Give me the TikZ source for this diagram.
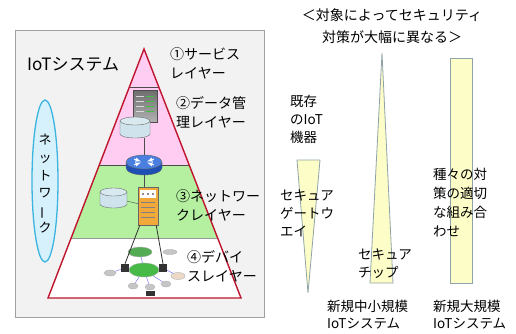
\documentclass[tikz,border=0pt]{standalone}
\usepackage{fontspec}
\setmainfont{Noto Sans CJK JP}
\usetikzlibrary{shapes.geometric}

\definecolor{boxgray}{HTML}{F2F2F2}
\definecolor{boxline}{HTML}{A0A0A0}
\definecolor{layerpink}{HTML}{FFCCF2}
\definecolor{layergreen}{HTML}{B4F0A0}
\definecolor{pyrred}{HTML}{C0142D}
\definecolor{netfill}{HTML}{D6F1FB}
\definecolor{netline}{HTML}{3CB4E0}
\definecolor{dbblue}{HTML}{CFE3EC}
\definecolor{rtrblue}{HTML}{1E4FB4}
\definecolor{rtrtop}{HTML}{4A7FE0}
\definecolor{srvorange}{HTML}{F3A93A}
\definecolor{barfill}{HTML}{FDFDC8}
\definecolor{barline}{HTML}{8FA3A8}

% drum: centre x, centre y of the top ellipse, x radius, y radius, height, body, top
\newcommand{\drum}[7]{%
  \draw[fill=#6, draw=black!60] (#1-#3,#2) -- ++(0,#5)
    arc[start angle=180, end angle=360, x radius=#3pt, y radius=#4pt] -- ++(0,-#5) -- cycle;
  \draw[fill=#7, draw=black!60] (#1,#2) ellipse[x radius=#3pt, y radius=#4pt];}

\begin{document}
\begin{tikzpicture}[x=1pt, y=-1pt,
    lbl/.style={anchor=north west, inner sep=0pt, align=left},
    spot/.style={inner sep=0pt},
    blob/.style={ellipse, inner sep=0pt, fill=gray!45, draw=gray!60},
    bar/.style={fill=barfill, draw=barline, line width=0.8pt}]
  \useasboundingbox (0,0) rectangle (516,333);

  % frame of the IoT system
  \draw[fill=boxgray, draw=boxline, line width=0.9pt] (15,30) rectangle (264,317);

  % pyramid and its layers
  \coordinate (apex) at (144,49);
  \coordinate (bl) at (48,298);
  \coordinate (br) at (241,298);
  \begin{scope}
    \clip (apex) -- (bl) -- (br) -- cycle;
    \fill[white] (0,40) rectangle (270,300);
    \fill[layerpink] (0,40) rectangle (270,165);
    \fill[layergreen] (0,165) rectangle (270,238);
    \draw[black!70, line width=0.6pt] (0,87) -- (270,87);
    \draw[black!70, line width=0.6pt] (0,165) -- (270,165);
    \draw[black!40, line width=0.6pt] (0,238) -- (270,238);
  \end{scope}
  \draw[pyrred, line width=1.4pt, line join=miter] (apex) -- (bl) -- (br) -- cycle;

  % network
  \node[ellipse, draw=netline, fill=netfill, line width=1.3pt, minimum width=26pt,
    minimum height=162pt, inner sep=0pt] (net) at (45,181) {};
  \node[inner sep=0pt, align=center, font=\fontsize{13}{17.6}\selectfont] (nettxt) at (45,184)
    {ネ\\ッ\\ト\\ワ\\\rotatebox[origin=c]{90}{ー}\\ク};

  \node[anchor=west, inner sep=0pt, font=\fontsize{17}{20}\selectfont] (iot) at (27,64) {IoTシステム};

  % data management layer
  \node[draw=black!70, minimum width=24pt, minimum height=32pt, inner sep=0pt,
    top color=gray!85!black, bottom color=gray!60] (srv1) at (145,106) {};
  \foreach \yy in {96,101,106,111}
    \draw[green!50!gray, line width=0.7pt] (146,\yy) -- (154,\yy);
  \foreach \yy in {96,101,106,111}
    \draw[gray!30, line width=0.7pt] (136,\yy) -- (144,\yy);
  \node[spot, minimum width=30pt, minimum height=21pt] (db1) at (135,127.5) {};
  \drum{135}{121}{15}{4}{13}{dbblue}{dbblue!80!white}

  % router
  \node[spot, minimum width=36pt, minimum height=20pt] (rtr) at (144,165) {};
  \drum{144}{162}{18}{7}{6}{rtrblue}{rtrtop}
  \draw[white, line width=0.9pt, -latex] (134,159) -- (141,161.5);
  \draw[white, line width=0.9pt, -latex] (154,159) -- (147,161.5);
  \draw[white, line width=0.9pt, -latex] (134,165) -- (141,162.5);
  \draw[white, line width=0.9pt, -latex] (154,165) -- (147,162.5);

  % network layer
  \node[draw=black!60, fill=srvorange, minimum width=20pt, minimum height=38pt,
    inner sep=0pt] (srv2) at (148,206) {};
  \fill[white] (140,190) rectangle (156,198);
  \foreach \xx in {143,148,153}
    \fill[black!60] (\xx,194) circle[radius=1.2pt];
  \foreach \yy in {202,207,212,217}
    \draw[black!50, line width=0.5pt] (141,\yy) -- (155,\yy);
  \node[spot, minimum width=27pt, minimum height=20pt] (db2) at (113.5,198) {};
  \drum{113.5}{192}{13.5}{4}{12}{dbblue}{dbblue!80!white}

  % devices
  \node[blob, fill=green!35!gray, minimum width=24pt, minimum height=10pt] (dv1) at (140,252) {};
  \node[blob, fill=green!45!gray, minimum width=30pt, minimum height=14pt] (hub) at (144,270) {};
  \node[fill=black!80, minimum width=8pt, minimum height=8pt, inner sep=0pt] (lbox) at (125,268) {};
  \node[fill=black!80, minimum width=8pt, minimum height=8pt, inner sep=0pt] (rbox) at (163,268) {};
  \node[blob, minimum width=12pt, minimum height=6pt] (dv2) at (110,273) {};
  \node[blob, fill=brown!30, minimum width=14pt, minimum height=7pt] (dv3) at (178,276) {};
  \node[blob, minimum width=10pt, minimum height=6pt] (dv4) at (133,286) {};
  \node[blob, minimum width=10pt, minimum height=6pt] (dv5) at (150,287) {};
  \node[blob, minimum width=10pt, minimum height=6pt] (dv6) at (166,284) {};
  \node[fill=black!80, minimum width=9pt, minimum height=5pt, inner sep=0pt] (dv7) at (150,293) {};
  \node[blob, minimum width=14pt, minimum height=5pt] (dv8) at (170,252) {};

  \draw[black!70] (db1.south -| rtr.north) to (rtr.north);
  \draw[black!70] (rtr.south) to (rtr.south |- srv2.north);
  \draw[black!70] (db2) to (srv2);
  \draw[black!80, line width=0.8pt] (srv2.south west) ++(2,0) to (lbox.north);
  \draw[black!80, line width=0.8pt] (srv2.south east) ++(-2,0) to (rbox.north);
  \draw[blue!60] (dv2) to (lbox);
  \draw[blue!60] (lbox) to (hub);
  \draw[blue!60] (hub) to (rbox);
  \draw[blue!60] (rbox) to (dv3);
  \draw[blue!60] (hub) to (dv4);
  \draw[blue!60] (hub) to (dv5);
  \draw[blue!60] (hub) to (dv6);
  \draw[blue!60] (dv1) to (hub);

  % layer names
  \begin{scope}[font=\fontsize{14}{19}\selectfont]
    \node[lbl] (l1) at (170,47) {①サービス\\レイヤー};
    \node[lbl] (l2) at (176,96) {②データ管\\理レイヤー};
    \node[lbl] (l3) at (176,189) {③ネットワー\\クレイヤー};
    \node[lbl] (l4) at (187,250) {④デバイ\\スレイヤー};
  \end{scope}

  % security measures by target
  \node[align=center, inner sep=0pt, font=\fontsize{14}{22}\selectfont] (title) at (392,26)
    {＜対象によってセキュリティ\\対策が大幅に異なる＞};

  \coordinate (t1a) at (297,160);
  \coordinate (t1b) at (320,160);
  \coordinate (t1c) at (308,293);
  \draw[bar] (t1a) -- (t1b) -- (t1c) -- cycle;
  \coordinate (t2a) at (382,53);
  \coordinate (t2b) at (393,283);
  \coordinate (t2c) at (370,283);
  \draw[bar] (t2a) -- (t2b) -- (t2c) -- cycle;
  \draw[bar] (450,58) rectangle (472,283);

  \begin{scope}[font=\fontsize{13.5}{18}\selectfont]
    \node[lbl] (old) at (290,95) {既存\\のIoT\\機器};
    \node[lbl] (gw) at (280,190) {セキュア\\ゲートウ\\エイ};
    \node[lbl] (chip) at (358,249) {セキュア\\チップ};
  \end{scope}
  \node[lbl, font=\fontsize{13.5}{19}\selectfont] (mix) at (433,168) {種々の対\\策の適切\\な組み合\\わせ};
  \begin{scope}[font=\fontsize{13.5}{16.5}\selectfont]
    \node[lbl] (mid) at (327,300) {新規中小規模\\IoTシステム};
    \node[lbl] (big) at (433,300) {新規大規模\\IoTシステム};
  \end{scope}
\end{tikzpicture}
\end{document}
